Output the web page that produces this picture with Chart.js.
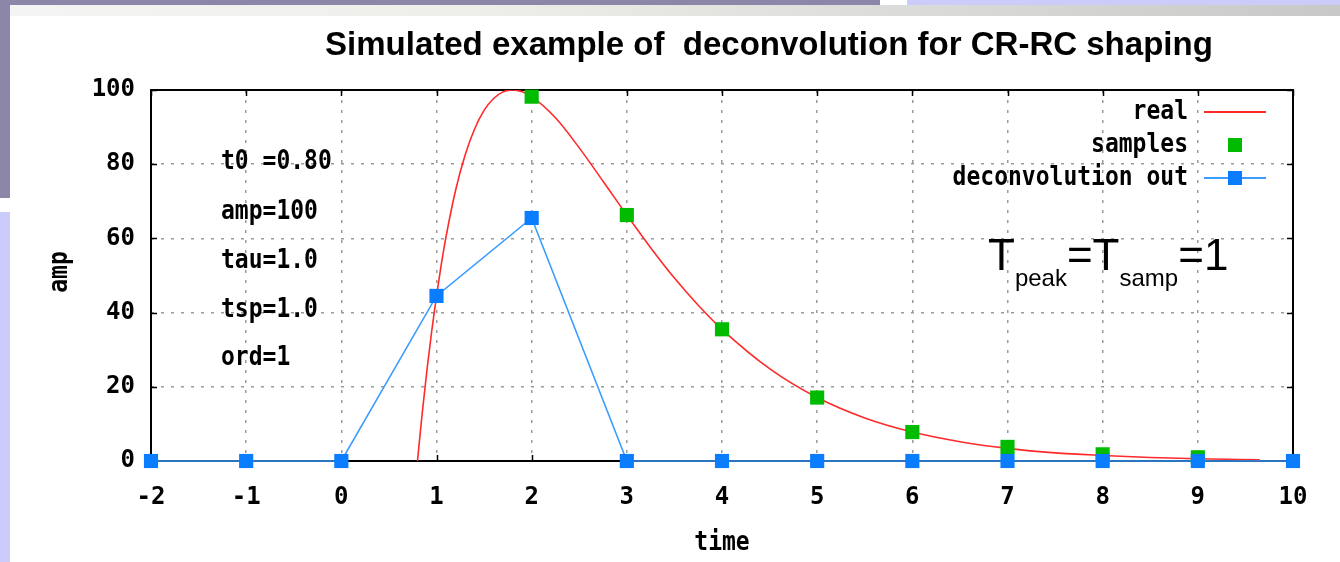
<!DOCTYPE html>
<html>
<head>
<meta charset="utf-8">
<script src="https://cdn.jsdelivr.net/npm/chart.js@4.4.1/dist/chart.umd.min.js"></script>
<style>
  html, body { margin: 0; padding: 0; background: #ccccfa; }
  #wrap { width: 1340px; height: 562px; position: relative; }
</style>
</head>
<body>
<div id="wrap"><canvas id="c" width="1340" height="562"></canvas></div>
<script>
// ---- data ----
const titleText = 'Simulated example of  deconvolution for CR-RC shaping';
const xTitle = 'time';
const yTitle = 'amp';
const timeTicks = [-2, -1, 0, 1, 2, 3, 4, 5, 6, 7, 8, 9, 10];
const ampTicks = [0, 20, 40, 60, 80, 100];
const seriesNames = ['real', 'samples', 'deconvolution out'];
const paramLines = ['t0 =0.80', 'amp=100', 'tau=1.0', 'tsp=1.0', 'ord=1'];

// "real" CR-RC pulse (red curve)
const realT   = [0.8, 0.85, 0.9, 0.95, 1.0, 1.05, 1.1, 1.2, 1.3, 1.4, 1.5, 1.6, 1.7, 1.8, 1.9, 2.0, 2.25, 2.5, 2.75, 3.0, 3.25, 3.5, 3.75, 4.0, 4.5, 5.0, 5.5, 6.0, 6.5, 7.0, 7.5, 8.0, 8.5, 9.0, 9.65];
const realAmp = [0, 12.9, 24.6, 35.1, 44.5, 52.9, 60.4, 72.9, 82.4, 89.5, 94.5, 97.7, 99.5, 100, 99.5, 98.2, 92.5, 84.4, 75.4, 66.3, 57.5, 49.3, 42.0, 35.5, 24.9, 17.1, 11.6, 7.8, 5.2, 3.4, 2.2, 1.5, 0.95, 0.6, 0.35];

// green samples
const sampleT   = [2, 3, 4, 5, 6, 7, 8, 9];
const sampleAmp = [98.2, 66.3, 35.5, 17.1, 7.8, 3.8, 1.8, 1.0];

// blue deconvolution output
const deconvT   = [-2, -1, 0, 1, 2, 3, 4, 5, 6, 7, 8, 9, 10];
const deconvAmp = [0, 0, 0, 44.5, 65.5, 0, 0, 0, 0, 0, 0, 0, 0];

const zip = (xs, ys) => xs.map((x, i) => ({ x: x, y: ys[i] }));

const MONO = '"DejaVu Sans Mono", monospace';
const SANS = '"Liberation Sans", Arial, sans-serif';
const RED = '#ff2a2a', GREEN = '#00bb00', BLUE = '#0a7cff', BLUE_LINE = '#3a9cff';

// draw monospace text slightly stretched vertically, like the gnuplot bitmap font
function tallText(ctx, s, x, y) {
  ctx.save();
  ctx.translate(x, y);
  ctx.scale(1, 1.18);
  ctx.fillText(s, 0, 0);
  ctx.restore();
}

const decorPlugin = {
  id: 'decor',
  beforeDraw(chart) {
    const ctx = chart.ctx;
    ctx.save();
    ctx.fillStyle = '#ccccfa';
    ctx.fillRect(0, 0, 1340, 562);
    ctx.fillStyle = '#8c86a8';
    ctx.fillRect(0, 0, 880, 5);
    ctx.fillRect(0, 0, 10, 198);
    ctx.fillStyle = '#ffffff';
    ctx.fillRect(880, 0, 27, 5);
    ctx.fillRect(10, 5, 1330, 557);
    ctx.fillRect(0, 198, 10, 14);
    const g = ctx.createLinearGradient(10, 0, 1340, 0);
    g.addColorStop(0, '#f4f4f4');
    g.addColorStop(0.35, '#eeeeea');
    g.addColorStop(1, '#c8c8c8');
    ctx.fillStyle = g;
    ctx.fillRect(10, 5, 1330, 11);
    ctx.restore();
  },
  beforeDatasetsDraw(chart) {
    const ctx = chart.ctx;
    const a = chart.chartArea;
    const xs = chart.scales.x, ys = chart.scales.y;
    ctx.save();
    ctx.strokeStyle = '#000';
    ctx.lineWidth = 1.5;
    timeTicks.forEach(t => {
      const px = Math.round(xs.getPixelForValue(t)) + 0.5;
      ctx.beginPath();
      ctx.moveTo(px, a.bottom); ctx.lineTo(px, a.bottom - 6);
      ctx.moveTo(px, a.top); ctx.lineTo(px, a.top + 6);
      ctx.stroke();
    });
    ampTicks.forEach(v => {
      const py = Math.round(ys.getPixelForValue(v)) + 0.5;
      ctx.beginPath();
      ctx.moveTo(a.left, py); ctx.lineTo(a.left + 6, py);
      ctx.moveTo(a.right, py); ctx.lineTo(a.right - 6, py);
      ctx.stroke();
    });
    ctx.lineWidth = 2;
    ctx.strokeRect(a.left, a.top, a.right - a.left, a.bottom - a.top);
    ctx.restore();
  },
  afterDraw(chart) {
    const ctx = chart.ctx;
    const a = chart.chartArea;
    ctx.save();
    ctx.fillStyle = '#000';
    let tsize = 25;
    ctx.font = 'bold ' + tsize + 'px ' + SANS;
    tsize = tsize * 888 / ctx.measureText(titleText).width;
    ctx.font = 'bold ' + tsize.toFixed(2) + 'px ' + SANS;
    ctx.textAlign = 'left';
    ctx.textBaseline = 'middle';
    ctx.fillText(titleText, 325, 46);

    ctx.font = 'bold 23px ' + MONO;
    ctx.textAlign = 'center';
    tallText(ctx, xTitle, (a.left + a.right) / 2, 543);
    ctx.save();
    ctx.translate(60, 272);
    ctx.rotate(-Math.PI / 2);
    ctx.scale(1.0, 1.18);
    ctx.fillText(yTitle, 0, 0);
    ctx.restore();

    ctx.textAlign = 'left';
    const py = [162, 212, 261, 310, 358];
    paramLines.forEach((s, i) => tallText(ctx, s, 221, py[i]));

    ctx.textAlign = 'right';
    const ly = [112, 145, 178];
    seriesNames.forEach((s, i) => tallText(ctx, s, 1188, ly[i]));
    ctx.lineWidth = 2;
    ctx.strokeStyle = RED;
    ctx.beginPath(); ctx.moveTo(1204, ly[0]); ctx.lineTo(1266, ly[0]); ctx.stroke();
    ctx.fillStyle = GREEN;
    ctx.fillRect(1228, ly[1] - 7, 14, 14);
    ctx.strokeStyle = BLUE_LINE;
    ctx.beginPath(); ctx.moveTo(1204, ly[2]); ctx.lineTo(1266, ly[2]); ctx.stroke();
    ctx.fillStyle = BLUE;
    ctx.fillRect(1228, ly[2] - 7, 14, 14);

    ctx.fillStyle = '#000';
    ctx.textAlign = 'left';
    ctx.textBaseline = 'alphabetic';
    const big = '44px ' + SANS, small = '24px ' + SANS;
    let x = 988;
    const parts = [['T', big, 270], ['peak', small, 286], ['=T', big, 270], ['samp', small, 286], ['=1', big, 270]];
    parts.forEach(p => {
      ctx.font = p[1];
      ctx.fillText(p[0], x, p[2]);
      x += ctx.measureText(p[0]).width;
    });
    ctx.restore();
  }
};

new Chart(document.getElementById('c'), {
  type: 'scatter',
  data: {
    datasets: [
      {
        label: seriesNames[2],
        data: zip(deconvT, deconvAmp),
        showLine: true,
        borderColor: BLUE_LINE,
        borderWidth: 1.6,
        pointStyle: 'rect',
        pointRadius: 10,
        pointBackgroundColor: BLUE,
        pointBorderColor: BLUE,
        pointBorderWidth: 0,
        tension: 0,
        clip: false,
        order: 0
      },
      {
        label: seriesNames[1],
        data: zip(sampleT, sampleAmp),
        showLine: false,
        pointStyle: 'rect',
        pointRadius: 10,
        pointBackgroundColor: GREEN,
        pointBorderColor: GREEN,
        pointBorderWidth: 0,
        clip: false,
        order: 1
      },
      {
        label: seriesNames[0],
        data: zip(realT, realAmp),
        showLine: true,
        borderColor: RED,
        borderWidth: 1.6,
        pointRadius: 0,
        cubicInterpolationMode: 'monotone',
        order: 2
      }
    ]
  },
  options: {
    responsive: false,
    animation: false,
    events: [],
    layout: { padding: { left: 0, right: 47, top: 90, bottom: 0 } },
    plugins: { legend: { display: false }, title: { display: false }, tooltip: { enabled: false } },
    scales: {
      x: {
        type: 'linear',
        min: -2, max: 10,
        afterFit(s) { s.height = 101; },
        afterBuildTicks(s) { s.ticks = timeTicks.map(v => ({ value: v })); },
        ticks: {
          padding: 22,
          color: '#000',
          font: { family: MONO, size: 24, weight: 'bold' },
          callback: v => String(v)
        },
        grid: { color: '#9a9a9a', lineWidth: 1.5, drawTicks: false },
        border: { display: false, dash: [3, 7] }
      },
      y: {
        type: 'linear',
        min: 0, max: 100,
        afterFit(s) { s.width = 151; },
        afterBuildTicks(s) { s.ticks = ampTicks.map(v => ({ value: v })); },
        ticks: {
          padding: 16,
          color: '#000',
          font: { family: MONO, size: 24, weight: 'bold' },
          callback: v => String(v)
        },
        grid: { color: '#9a9a9a', lineWidth: 1.5, drawTicks: false },
        border: { display: false, dash: [3, 7] }
      }
    }
  },
  plugins: [decorPlugin]
});
</script>
</body>
</html>
